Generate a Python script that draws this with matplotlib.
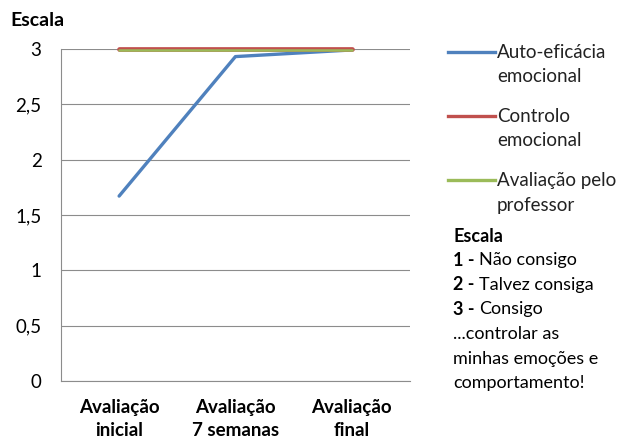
import matplotlib
matplotlib.use("Agg")
import matplotlib.pyplot as plt
from matplotlib.lines import Line2D
from matplotlib.ticker import FuncFormatter

plt.rcParams['font.family'] = ['Lato', 'DejaVu Sans']

categories = ['Avaliação\ninicial', 'Avaliação\n7 semanas', 'Avaliação\nfinal']
series_names = ['Auto-eficácia\nemocional', 'Controlo\nemocional', 'Avaliação pelo\nprofessor']
auto_eficacia = [1.67, 2.93, 2.99]
controlo = [3.0, 3.0, 3.0]
avaliacao_prof = [2.99, 2.99, 2.99]
colors = ['#4F81BD', '#C0504D', '#9BBB59']
widths = [2.4, 3.4, 1.8]
y_ticks = [0, 0.5, 1, 1.5, 2, 2.5, 3]

fig = plt.figure(figsize=(6.22, 4.44), dpi=100)
ax = fig.add_axes([0.098, 0.142, 0.561, 0.748])

x = range(len(categories))
for vals, c, w in zip([auto_eficacia, controlo, avaliacao_prof], colors, widths):
    ax.plot(x, vals, color=c, lw=w, solid_capstyle='round', zorder=3, clip_on=False)

ax.set_xlim(-0.5, len(categories) - 0.5)
ax.set_ylim(0, 3)
ax.set_yticks(y_ticks)
ax.yaxis.set_major_formatter(FuncFormatter(lambda v, p: ('%g' % v).replace('.', ',')))
ax.set_xticks(list(x))
ax.set_xticklabels(categories, fontweight='bold', fontsize=13.5, linespacing=1.4)
ax.tick_params(axis='both', length=0)
ax.tick_params(axis='y', pad=14, labelsize=13.5)
ax.tick_params(axis='x', pad=13)
ax.grid(axis='y', color='#8c8c8c', lw=0.8)
ax.set_axisbelow(True)
for s in ['top', 'right']:
    ax.spines[s].set_visible(False)
for s in ['left', 'bottom']:
    ax.spines[s].set_color('#8c8c8c')
    ax.spines[s].set_linewidth(0.8)

fig.text(10 / 622, 1 - 20 / 444, 'Escala', fontsize=14, fontweight='bold', va='center')

# legend keys, each label over two lines
for i, (name, c) in enumerate(zip(series_names, colors)):
    ytop = 1 - (52 + 64 * i) / 444
    fig.add_artist(Line2D([448 / 622, 495 / 622], [ytop, ytop], color=c, lw=2.4,
                          transform=fig.transFigure))
    for j, part in enumerate(name.split('\n')):
        fig.text(497 / 622, ytop - j * 25 / 444, part, fontsize=13.5, va='center',
                 ha='left', color='#222222')

# scale note
left = 453 / 622
fig.text(left, 1 - 236 / 444, 'Escala', fontsize=13, fontweight='bold', va='center')
scale_items = [('1 -', 'Não consigo'), ('2 -', 'Talvez consiga'), ('3 -', 'Consigo')]
for i, (num, desc) in enumerate(scale_items):
    yy = 1 - (260 + 24.7 * i) / 444
    t = fig.text(left, yy, num, fontsize=13, fontweight='bold', va='center')
    ax.annotate(desc, xy=(1, 0.5), xycoords=t, xytext=(3, 0), textcoords='offset points',
                fontsize=13, va='center', ha='left', annotation_clip=False)
for i, line in enumerate(['...controlar as', 'minhas emoções e', 'comportamento!']):
    fig.text(left, 1 - (334 + 24.5 * i) / 444, line, fontsize=13, va='center')

fig.savefig('out.png', dpi=100)
